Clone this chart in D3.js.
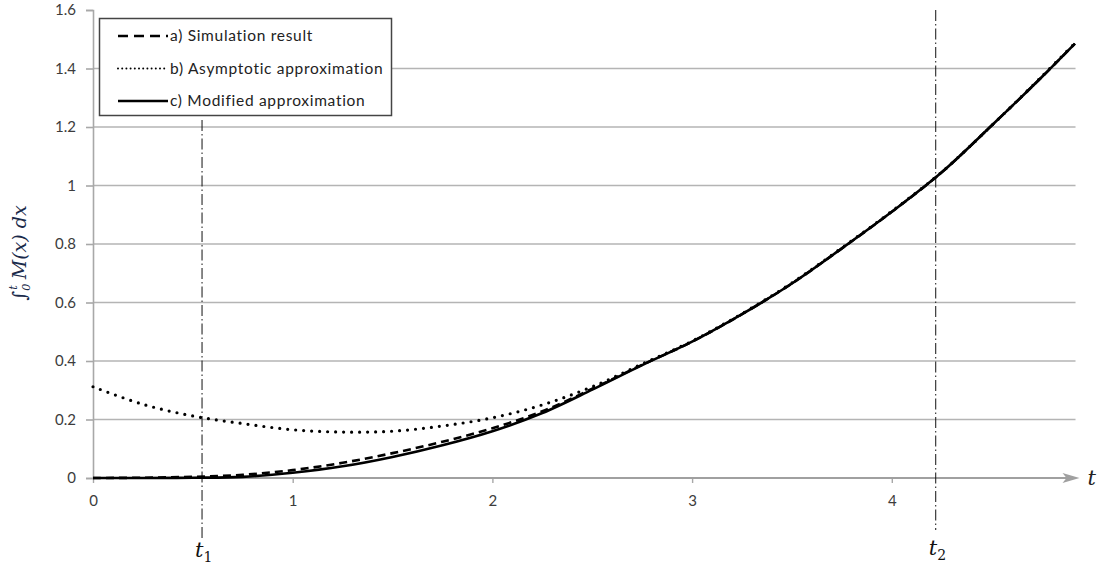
<!DOCTYPE html>
<html><head><meta charset="utf-8">
<script src="https://cdn.jsdelivr.net/npm/d3@7"></script>
<style>
html,body{margin:0;padding:0;background:#fff;}
svg{display:block;}
.tick text{font-family:Lato,"Open Sans",sans-serif;}
</style></head>
<body>
<svg id="chart" width="1097" height="567"></svg>
<script>
// ---- data ----
const tValues = [0,0.25,0.5,0.75,1.0,1.25,1.5,1.75,2.0,2.25,2.5,2.75,3.0,3.25,3.5,3.75,4.0,4.25,4.5,4.75,4.917];
const simulation = [0,0.001,0.004,0.011,0.027,0.052,0.085,0.124,0.17,0.228,0.305,0.387,0.466,0.56,0.665,0.785,0.91,1.045,1.205,1.37,1.485];
const asymptotic = [0.312,0.252,0.212,0.186,0.165,0.157,0.16,0.178,0.206,0.25,0.312,0.39,0.468,0.562,0.667,0.787,0.912,1.046,1.205,1.372,1.487];
const modified   = [0,0,0.001,0.004,0.018,0.04,0.072,0.112,0.16,0.222,0.302,0.386,0.466,0.56,0.665,0.785,0.91,1.045,1.205,1.37,1.485];
const xTicks = [0,1,2,3,4];
const xTickLabels = ["0","1","2","3","4"];
const yTicks = [0,0.2,0.4,0.6,0.8,1.0,1.2,1.4,1.6];
const yTickLabels = ["0","0.2","0.4","0.6","0.8","1","1.2","1.4","1.6"];
const t1 = 0.546, t2 = 4.22, tAxisEnd = 4.93;
const legendLabels = ["a) Simulation result","b) Asymptotic approximation","c) Modified approximation"];

// ---- scales ----
const svg = d3.select("#chart");
const x = d3.scaleLinear().domain([0,5]).range([93, 93+5*199.7]);
const y = d3.scaleLinear().domain([0,1.6]).range([478, 10]);

// gridlines
svg.append("g").selectAll("line").data(yTicks.slice(1,-1)).join("line")
  .attr("x1", x(0)).attr("x2", x(tAxisEnd)-2)
  .attr("y1", d=>y(d)).attr("y2", d=>y(d))
  .attr("stroke","#b4b4b4").attr("stroke-width",1.6);

// y axis
const yAxis = d3.axisLeft(y).tickValues(yTicks).tickSize(7).tickPadding(10)
  .tickFormat((d,i)=>yTickLabels[i]);
const gy = svg.append("g").attr("transform",`translate(${x(0)},0)`).call(yAxis);
gy.select(".domain").attr("stroke","#a8a8a8").attr("stroke-width",1.6);
gy.selectAll(".tick line").attr("stroke","#a8a8a8").attr("stroke-width",1.6);
gy.selectAll(".tick text").attr("font-size",15).attr("fill","#3c3c3c");

// x axis
const xAxis = d3.axisBottom(x).tickValues(xTicks).tickSize(5).tickPadding(12)
  .tickFormat((d,i)=>xTickLabels[i]);
const gx = svg.append("g").attr("transform",`translate(0,${y(0)})`).call(xAxis);
gx.select(".domain").remove();
gx.selectAll(".tick line").attr("stroke","#a8a8a8").attr("stroke-width",1.4);
gx.selectAll(".tick text").attr("font-size",15).attr("fill","#3c3c3c");
svg.append("line").attr("x1",x(0)).attr("x2",x(tAxisEnd)-10).attr("y1",y(0)).attr("y2",y(0))
  .attr("stroke","#a0a0a0").attr("stroke-width",2);
svg.append("path")
  .attr("d",`M${x(tAxisEnd)+2},${y(0)} L${x(tAxisEnd)-15},${y(0)-5} L${x(tAxisEnd)-11},${y(0)} L${x(tAxisEnd)-15},${y(0)+5} Z`)
  .attr("fill","#a0a0a0");
svg.append("text").attr("x",x(tAxisEnd)+10).attr("y",y(0)+7)
  .attr("font-family","'DejaVu Serif',serif").attr("font-style","italic").attr("font-size",21).attr("fill","#222").text("t");

// vertical dash-dot lines
svg.append("line").attr("x1",x(t1)).attr("x2",x(t1)).attr("y1",120).attr("y2",538)
  .attr("stroke","#111").attr("stroke-width",1).attr("stroke-dasharray","11,3,1.5,3");
svg.append("line").attr("x1",x(t2)).attr("x2",x(t2)).attr("y1",y(1.6)).attr("y2",530)
  .attr("stroke","#111").attr("stroke-width",1).attr("stroke-dasharray","11,3,1.5,3");
function tLabel(tx, ty, sub){
  const tt = svg.append("text").attr("x",tx).attr("y",ty)
    .attr("font-family","'DejaVu Serif',serif").attr("font-style","italic").attr("font-size",21).attr("fill","#111");
  tt.append("tspan").text("t");
  tt.append("tspan").attr("font-size",14).attr("font-style","normal").attr("dy",5).text(sub);
}
tLabel(x(t1)-7, 557, "1");
tLabel(x(t2)-7, 555, "2");

// y label
const yl = svg.append("text").attr("transform","translate(26,253) rotate(-90)")
  .attr("text-anchor","middle").attr("font-family","'DejaVu Serif',serif").attr("font-style","italic")
  .attr("font-size",19).attr("fill","#1a2a4a");
yl.append("tspan").text("∫");
yl.append("tspan").attr("font-size",11).attr("dy",4).text("0");
yl.append("tspan").attr("font-size",11).attr("dy",-13).attr("dx",-6).text("t");
yl.append("tspan").attr("dy",9).text(" M(x) dx");

// curves
const pts = arr => tValues.map((t,i)=>[t,arr[i]]);
const line = d3.line().x(d=>x(d[0])).y(d=>y(d[1])).curve(d3.curveCatmullRom.alpha(0.5));
svg.append("path").attr("d",line(pts(modified))).attr("fill","none").attr("stroke","#000").attr("stroke-width",2.6);
svg.append("path").attr("d",line(pts(simulation))).attr("fill","none").attr("stroke","#000").attr("stroke-width",2.6)
  .attr("stroke-dasharray","8,5");
svg.append("path").attr("d",line(pts(asymptotic))).attr("fill","none").attr("stroke","#000").attr("stroke-width",3.2)
  .attr("stroke-linecap","round").attr("stroke-dasharray","0,8");

// legend
svg.append("rect").attr("x",99.5).attr("y",18.5).attr("width",292).attr("height",97)
  .attr("fill","#fff").attr("stroke","#444").attr("stroke-width",1.5);
const rowsY = [36,68.5,101];
const styles = [
  {dash:"10,6", w:2.6, cap:"butt"},
  {dash:"0,4.2", w:2, cap:"round"},
  {dash:null, w:2.6, cap:"butt"}
];
legendLabels.forEach((lab,i)=>{
  const l = svg.append("line").attr("x1",118).attr("x2",168).attr("y1",rowsY[i]).attr("y2",rowsY[i])
    .attr("stroke","#000").attr("stroke-width",styles[i].w).attr("stroke-linecap",styles[i].cap);
  if(styles[i].dash) l.attr("stroke-dasharray",styles[i].dash);
  svg.append("text").attr("x",170).attr("y",rowsY[i]+5)
    .attr("font-family","Lato,'Open Sans',sans-serif").attr("font-size",15.5).attr("letter-spacing",0.7)
    .attr("fill","#222").text(lab);
});
</script>
</body></html>
